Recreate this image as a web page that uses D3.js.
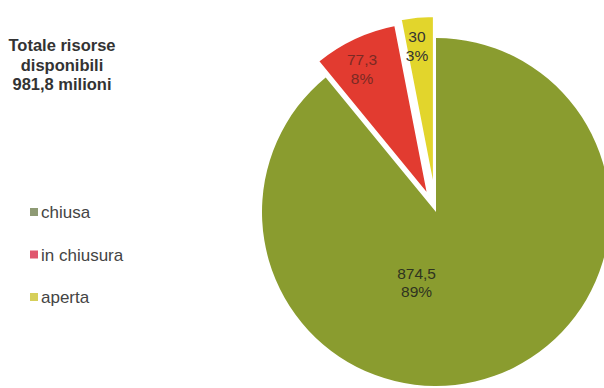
<!DOCTYPE html>
<html>
<head>
<meta charset="utf-8">
<script src="https://cdn.jsdelivr.net/npm/d3@7"></script>
<style>
  html, body { margin: 0; padding: 0; background: #fff; }
  svg { display: block; }
  text { font-family: "Liberation Sans", Arial, sans-serif; }
</style>
</head>
<body>
<svg id="chart" width="604" height="388"></svg>
<script>
// Resources by project status (millions)
const categories = ["chiusa", "in chiusura", "aperta"];
const values = [874.5, 77.3, 30];
const valueLabels = ["874,5", "77,3", "30"];
const percentLabels = ["89%", "8%", "3%"];
const titleLines = ["Totale risorse", "disponibili", "981,8 milioni"];

const colors = ["#8a9c2f", "#e23b30", "#e2d52c"];
const legendColors = ["#8e9a74", "#e0566e", "#d6cf5a"];
const labelColors = ["#2f3320", "#7a2a24", "#333"];
const explode = [0, 18, 22];

const svg = d3.select("#chart");
const cx = 436, cy = 212, R = 174;

const pie = d3.pie().sort(null).value(d => d).startAngle(0).endAngle(2 * Math.PI);
const arcs = pie(values);
const arc = d3.arc().innerRadius(0).outerRadius(R);

const g = svg.append("g").attr("transform", `translate(${cx},${cy})`);

const slices = g.selectAll("g.slice").data(arcs).join("g")
  .attr("class", "slice")
  .attr("transform", (d, i) => {
    const a = (d.startAngle + d.endAngle) / 2;
    return `translate(${Math.sin(a) * explode[i]},${-Math.cos(a) * explode[i]})`;
  });

slices.append("path")
  .attr("d", arc)
  .attr("fill", (d, i) => colors[i])
  .attr("stroke", (d, i) => i === 0 ? "none" : "#fff")
  .attr("stroke-width", 2);

// value labels: placed along each slice's bisector, with small nudges
const labelRadius = [0.42, 0.815, 0.835];
const labelNudge = [[-44, 1], [-6, 1], [-3, 0]];

slices.each(function (d, i) {
  const a = (d.startAngle + d.endAngle) / 2;
  const r = R * labelRadius[i];
  const x = Math.sin(a) * r + labelNudge[i][0];
  const y = -Math.cos(a) * r + labelNudge[i][1];
  const t = d3.select(this).append("text")
    .attr("text-anchor", "middle")
    .attr("font-size", 15.5)
    .attr("fill", labelColors[i]);
  t.append("tspan").attr("x", x).attr("y", y - 3).text(valueLabels[i]);
  t.append("tspan").attr("x", x).attr("y", y + 15.5).text(percentLabels[i]);
});

// title block
const title = svg.append("text")
  .attr("text-anchor", "middle")
  .attr("font-size", 16.5)
  .attr("font-weight", "bold")
  .attr("fill", "#333");
titleLines.forEach((l, i) => {
  title.append("tspan").attr("x", 62).attr("y", 51 + i * 19.5).text(l);
});

// legend
const legend = svg.selectAll("g.legend").data(categories).join("g")
  .attr("class", "legend")
  .attr("transform", (d, i) => `translate(30,${218 + i * 42.5})`);
legend.append("rect")
  .attr("x", 0).attr("y", -10).attr("width", 8).attr("height", 8)
  .attr("fill", (d, i) => legendColors[i]);
legend.append("text")
  .attr("x", 11).attr("y", 0)
  .attr("font-size", 17)
  .attr("fill", "#444")
  .text(d => d);
</script>
</body>
</html>
